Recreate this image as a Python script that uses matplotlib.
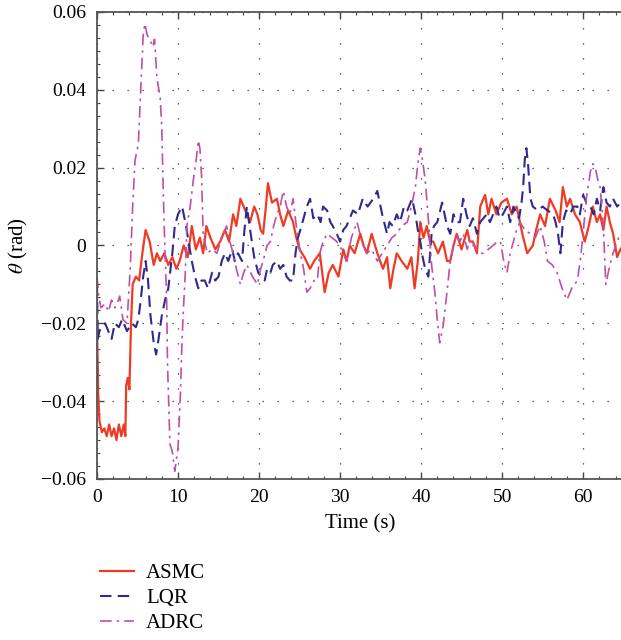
import matplotlib
matplotlib.use("Agg")
import matplotlib.pyplot as plt
from matplotlib.ticker import MultipleLocator, AutoMinorLocator

# (time, theta) pairs
asmc = [(0.0, -0.021), (0.15, -0.038), (0.3, -0.045), (0.6, -0.048), (0.9, -0.047), (1.2, -0.049),
        (1.5, -0.046), (1.8, -0.049), (2.1, -0.047), (2.4, -0.050), (2.7, -0.046), (3.0, -0.049),
        (3.3, -0.046), (3.5, -0.049), (3.6, -0.036), (3.8, -0.034), (4.0, -0.037), (4.2, -0.020),
        (4.4, -0.010), (4.8, -0.008), (5.2, -0.009), (5.6, -0.002), (6.0, 0.004), (6.5, 0.001),
        (7.0, -0.005), (7.4, -0.002), (7.8, -0.004), (8.3, -0.002), (8.8, -0.005), (9.3, -0.003),
        (9.8, -0.006), (10.2, -0.004), (10.7, 0.000), (11.2, -0.003), (11.7, 0.005), (12.2, -0.001),
        (12.7, 0.002), (13.1, -0.002), (13.5, 0.005), (14.0, 0.002), (14.6, -0.001), (15.2, 0.001),
        (15.8, 0.004), (16.3, 0.001), (16.8, 0.008), (17.2, 0.005), (17.7, 0.012), (18.3, 0.009),
        (18.9, 0.006), (19.4, 0.010), (19.8, 0.008), (20.2, 0.004), (20.5, 0.003), (20.8, 0.009),
        (21.1, 0.016), (21.6, 0.011), (22.2, 0.012), (22.6, 0.008), (23.0, 0.005), (23.6, 0.009),
        (24.2, 0.006), (24.6, 0.002), (25.0, -0.001), (25.6, -0.003), (26.3, -0.006), (26.8, -0.004),
        (27.5, -0.002), (28.1, -0.012), (28.6, -0.007), (29.1, -0.005), (29.8, -0.008), (30.4, -0.001),
        (30.8, -0.004), (31.2, 0.000), (31.8, -0.002), (32.5, 0.003), (32.9, 0.000), (33.3, -0.002),
        (33.9, 0.003), (34.6, -0.002), (35.3, -0.006), (35.8, -0.003), (36.2, -0.011), (36.6, -0.006),
        (37.0, -0.002), (37.6, -0.004), (38.3, -0.006), (38.8, -0.003), (39.2, -0.011), (39.6, -0.004),
        (39.9, 0.006), (40.3, 0.002), (40.7, 0.005), (41.1, 0.001), (41.5, 0.001), (42.1, -0.002),
        (42.7, 0.001), (43.2, -0.004), (43.6, -0.004), (44.0, 0.000), (44.4, 0.003), (45.0, -0.001),
        (45.7, 0.004), (46.0, 0.001), (46.4, 0.001), (46.9, -0.002), (47.3, 0.010), (47.9, 0.013),
        (48.3, 0.008), (48.7, 0.012), (49.3, 0.008), (49.9, 0.011), (50.6, 0.012), (51.2, 0.008),
        (51.8, 0.010), (52.2, 0.006), (52.5, 0.003), (53.1, -0.002), (53.8, 0.000), (54.2, 0.004),
        (54.7, 0.008), (55.3, 0.005), (55.9, 0.012), (56.6, 0.009), (57.1, 0.006), (57.5, 0.015),
        (58.0, 0.010), (58.4, 0.012), (59.0, 0.008), (59.6, 0.006), (60.2, 0.001), (60.7, 0.005),
        (61.2, 0.010), (61.7, 0.006), (62.1, 0.008), (62.5, 0.004), (62.9, 0.010), (63.3, 0.006),
        (63.7, 0.003), (64.2, -0.003), (64.6, -0.001), (65.0, 0.000)]

lqr = [(0.0, -0.010), (0.1, -0.024), (0.3, -0.022), (0.6, -0.021), (1.0, -0.020), (1.4, -0.022),
       (1.8, -0.024), (2.2, -0.020), (2.7, -0.021), (3.1, -0.019), (3.7, -0.022), (4.3, -0.020),
       (4.8, -0.021), (5.1, -0.019), (5.4, -0.014), (5.7, -0.008), (6.0, -0.004), (6.3, -0.009),
       (6.6, -0.018), (7.0, -0.025), (7.3, -0.028), (7.6, -0.024), (8.0, -0.018), (8.4, -0.014),
       (8.8, -0.011), (9.3, -0.002), (9.6, 0.005), (10.0, 0.008), (10.5, 0.010), (10.9, 0.006),
       (11.3, 0.001), (11.7, -0.004), (12.1, -0.008), (12.5, -0.011), (12.9, -0.009), (13.3, -0.009),
       (13.7, -0.011), (14.2, -0.007), (14.6, -0.009), (15.0, -0.008), (15.4, -0.004), (15.8, -0.002),
       (16.2, -0.004), (16.7, -0.001), (17.0, -0.004), (17.4, -0.002), (17.9, -0.004), (18.2, 0.004),
       (18.5, 0.010), (18.9, 0.004), (19.4, -0.003), (19.9, -0.007), (20.3, -0.008), (20.7, -0.009),
       (21.0, -0.006), (21.4, -0.007), (21.7, -0.005), (22.2, -0.004), (22.6, -0.006), (23.0, -0.005),
       (23.4, -0.008), (23.8, -0.009), (24.2, -0.009), (24.5, -0.002), (24.8, 0.002), (25.1, 0.004),
       (25.5, 0.007), (25.9, 0.010), (26.3, 0.012), (26.7, 0.007), (27.2, 0.008), (27.6, 0.006),
       (27.9, 0.010), (28.4, 0.009), (28.8, 0.006), (29.1, 0.005), (29.6, 0.003), (30.0, 0.001),
       (30.4, 0.004), (30.8, 0.005), (31.2, 0.007), (31.6, 0.009), (32.2, 0.008), (32.8, 0.012),
       (33.4, 0.010), (34.1, 0.012), (34.6, 0.014), (35.2, 0.008), (35.8, 0.003), (36.1, 0.006),
       (36.5, 0.005), (37.0, 0.008), (37.4, 0.006), (37.9, 0.010), (38.3, 0.009), (38.9, 0.012),
       (39.3, 0.008), (39.6, 0.004), (39.9, 0.001), (40.2, -0.003), (40.5, -0.006), (40.9, -0.008),
       (41.3, 0.003), (41.6, 0.005), (42.0, 0.006), (42.6, 0.011), (43.2, 0.005), (43.6, 0.003),
       (44.0, 0.008), (44.4, 0.006), (44.8, 0.006), (45.2, 0.012), (45.6, 0.008), (46.0, 0.005),
       (46.4, 0.007), (46.9, 0.003), (47.3, 0.006), (47.7, 0.007), (48.1, 0.008), (48.5, 0.006),
       (48.9, 0.008), (49.3, 0.010), (49.7, 0.007), (50.1, 0.008), (50.6, 0.010), (51.0, 0.006),
       (51.4, 0.010), (51.8, 0.008), (52.1, 0.007), (52.4, 0.011), (52.6, 0.015), (52.8, 0.022),
       (53.0, 0.025), (53.2, 0.021), (53.5, 0.012), (53.8, 0.010), (54.4, 0.009), (55.0, 0.010),
       (55.6, 0.009), (56.3, 0.008), (56.6, 0.006), (56.9, 0.003), (57.2, -0.002), (57.5, 0.006),
       (57.9, 0.009), (58.4, 0.008), (58.8, 0.010), (59.3, 0.010), (59.6, 0.008), (60.0, 0.013),
       (60.4, 0.011), (60.9, 0.010), (61.3, 0.008), (61.7, 0.012), (62.1, 0.009), (62.5, 0.015),
       (62.9, 0.011), (63.3, 0.010), (63.7, 0.012), (64.2, 0.010), (64.6, 0.011), (65.0, 0.011)]

adrc = [(0.0, -0.008), (0.2, -0.013), (0.5, -0.016), (1.0, -0.015), (1.4, -0.017), (1.8, -0.014),
        (2.2, -0.016), (2.5, -0.015), (2.8, -0.013), (3.2, -0.019), (3.7, -0.020), (4.1, -0.006),
        (4.4, 0.010), (4.7, 0.022), (5.1, 0.026), (5.4, 0.040), (5.7, 0.054), (5.9, 0.057),
        (6.2, 0.054), (6.5, 0.053), (6.9, 0.051), (7.1, 0.053), (7.4, 0.043), (7.8, 0.038),
        (8.0, 0.030), (8.2, 0.012), (8.4, -0.002), (8.6, -0.014), (8.7, -0.030), (9.0, -0.051),
        (9.3, -0.053), (9.6, -0.058), (10.0, -0.052), (10.3, -0.038), (10.5, -0.024), (10.7, -0.015),
        (10.9, -0.007), (11.1, 0.005), (11.5, 0.010), (11.9, 0.017), (12.3, 0.023), (12.5, 0.027),
        (12.7, 0.025), (12.9, 0.018), (13.1, 0.003), (13.6, -0.002), (14.2, -0.001), (14.8, -0.002),
        (15.4, 0.002), (16.0, 0.005), (16.4, 0.001), (16.8, -0.002), (17.2, -0.006), (17.7, -0.010),
        (18.1, -0.007), (18.5, -0.005), (19.2, -0.008), (19.8, -0.010), (20.2, -0.006), (20.5, -0.004),
        (21.0, 0.000), (21.4, 0.001), (21.8, 0.005), (22.2, 0.008), (22.6, 0.010), (23.0, 0.014),
        (23.4, 0.010), (23.8, 0.008), (24.2, 0.012), (24.6, 0.005), (25.1, -0.002), (25.5, -0.006),
        (25.9, -0.012), (26.3, -0.011), (26.8, -0.009), (27.2, -0.009), (27.5, -0.002), (27.9, 0.001),
        (28.4, 0.003), (29.0, 0.002), (29.6, 0.001), (30.2, -0.001), (30.8, -0.004), (31.4, 0.002),
        (32.1, 0.006), (32.7, 0.001), (33.3, -0.002), (33.9, -0.001), (34.6, -0.004), (35.2, -0.002),
        (35.8, 0.000), (36.4, 0.002), (37.0, 0.003), (37.6, 0.005), (38.3, 0.006), (38.8, 0.010),
        (39.3, 0.015), (39.6, 0.021), (39.9, 0.025), (40.1, 0.023), (40.3, 0.020), (40.5, 0.017),
        (40.7, 0.012), (41.0, 0.004), (41.3, -0.005), (41.7, -0.012), (42.0, -0.019), (42.3, -0.025),
        (42.7, -0.021), (43.2, -0.012), (43.6, -0.004), (44.0, 0.000), (44.4, 0.003), (44.8, 0.001),
        (45.2, 0.003), (45.7, -0.001), (46.0, 0.002), (46.4, 0.001), (47.0, -0.002), (47.7, -0.002),
        (48.3, -0.001), (48.9, 0.000), (49.4, 0.001), (49.8, 0.001), (50.2, -0.004), (50.6, -0.007),
        (51.0, -0.002), (51.4, 0.001), (51.8, 0.004), (52.2, 0.006), (52.8, 0.004), (53.5, 0.003),
        (54.1, 0.002), (54.7, 0.005), (55.2, 0.001), (55.6, -0.004), (56.2, -0.005), (56.8, -0.007),
        (57.4, -0.011), (58.0, -0.014), (58.6, -0.011), (59.3, -0.009), (59.7, -0.003), (60.0, 0.003),
        (60.4, 0.012), (60.9, 0.019), (61.2, 0.021), (61.5, 0.020), (61.8, 0.017), (62.1, 0.015),
        (62.3, 0.010), (62.5, 0.005), (62.8, -0.010), (63.0, -0.008), (63.3, -0.005), (63.7, -0.002),
        (64.2, 0.001), (64.6, 0.003), (65.0, 0.002)]

labels = ["ASMC", "LQR", "ADRC"]

plt.rcParams["font.family"] = ["Liberation Serif", "DejaVu Serif"]
plt.rcParams["mathtext.fontset"] = "stix"
plt.rcParams["axes.unicode_minus"] = True

fig = plt.figure(figsize=(6.21, 6.4), dpi=100)
ax = fig.add_axes([0.1562, 0.2516, 0.848, 0.7297])

t, v = zip(*asmc)
ax.plot(t, v, color="#EE3B24", lw=1.6, ls="-", label=labels[0])
t, v = zip(*lqr)
ax.plot(t, v, color="#2E2A8E", lw=1.5, ls=(0, (5.5, 3)), label=labels[1])
t, v = zip(*adrc)
ax.plot(t, v, color="#C14FA6", lw=1.2, ls=(0, (7, 3, 1.5, 3)), label=labels[2])

ax.set_xlim(0, 65)
ax.set_ylim(-0.06, 0.06)
ax.xaxis.set_major_locator(MultipleLocator(10))
ax.xaxis.set_minor_locator(MultipleLocator(2))
ax.yaxis.set_major_locator(MultipleLocator(0.02))
ax.yaxis.set_minor_locator(AutoMinorLocator(6))
ax.yaxis.set_major_formatter(plt.FuncFormatter(
    lambda val, pos: "0" if abs(val) < 1e-9 else f"{val:.2f}".replace("-", "\u2212")))

ax.tick_params(which="both", direction="in", top=True, right=False, labelsize=14, color="#444444")
ax.tick_params(which="major", length=5, width=1)
ax.tick_params(which="minor", length=2.5, width=0.8)
ax.tick_params(axis="x", pad=7)
ax.tick_params(axis="y", pad=8)
for s in ["left", "bottom", "top"]:
    ax.spines[s].set_color("#555555")
    ax.spines[s].set_linewidth(1.3)
ax.spines["right"].set_visible(False)

ax.grid(True, which="major", color="#333333", ls=(0, (1, 11)), lw=0.9)

ax.set_xlabel("Time (s)", fontsize=15, labelpad=6)
ax.set_ylabel(r"$\theta$ (rad)", fontsize=15, labelpad=8)

fig.legend(loc="upper left", bbox_to_anchor=(0.148, 0.132), frameon=False, fontsize=15,
           handlelength=1.6, handletextpad=0.6, labelspacing=0.25, borderaxespad=0)

fig.savefig("out.png", dpi=100)
